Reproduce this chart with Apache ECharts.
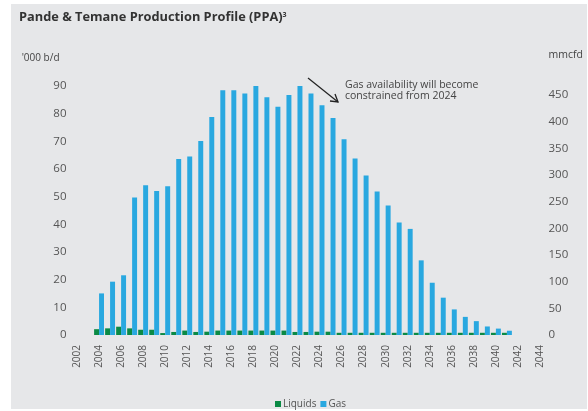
<!DOCTYPE html>
<html>
<head>
<meta charset="utf-8">
<script src="https://cdn.jsdelivr.net/npm/echarts@6/dist/echarts.min.js"></script>
<style>
  html, body { margin: 0; padding: 0; background: #ffffff; }
  #chart { width: 588px; height: 411px; }
</style>
</head>
<body>
<div id="chart"></div>
<script>
  // years on the x axis (ticks every 2 years)
  var years = [];
  for (var y = 2002; y <= 2044; y++) years.push(String(y));

  // '000 b/d, 2004 .. 2041
  var liquids = [2.1, 2.4, 3.0, 2.4, 1.9, 1.9, 0.7, 1.1, 1.6, 1.1,
                 1.2, 1.6, 1.6, 1.6, 1.6, 1.6, 1.6, 1.6, 1.1, 1.1,
                 1.2, 1.2, 0.8, 0.8, 0.8, 0.8, 0.8, 0.8, 0.8, 0.8,
                 0.8, 0.8, 0.8, 0.8, 0.8, 0.8, 0.8, 0.8];
  // mmcfd, 2004 .. 2041
  var gas = [78, 100, 112, 258, 281, 270, 279, 330, 335, 364,
             409, 459, 459, 453, 467, 446, 428, 450, 467, 453,
             431, 407, 367, 331, 299, 269, 243, 211, 199, 140,
             98, 70, 48, 34, 26, 16, 12, 8];

  var firstYear = 2004;
  function toSeries(arr) {
    return years.map(function (yr) {
      var i = Number(yr) - firstYear;
      return (i >= 0 && i < arr.length) ? arr[i] : null;
    });
  }

  var font = 'Open Sans';
  var chart = echarts.init(document.getElementById('chart'));
  chart.setOption({
    backgroundColor: '#ffffff',
    textStyle: { fontFamily: font },
    graphic: [
      { type: 'rect', z: -10, shape: { x: 11, y: 4, width: 576, height: 405 }, style: { fill: '#e6e7e9' } },
      // annotation arrow
      { type: 'polyline', z: 10, shape: { points: [[308, 78], [338, 102]] }, style: { stroke: '#222', lineWidth: 1.3, fill: null } },
      { type: 'polyline', z: 10, shape: { points: [[335, 94], [338, 102], [330, 101]] }, style: { stroke: '#222', lineWidth: 1.3, fill: null } },
      { type: 'text', z: 10, left: 345, top: 80, style: { text: 'Gas availability will become\nconstrained from 2024', fill: '#444', font: '10.5px "' + font + '"', lineHeight: 11 } }
    ],
    title: {
      left: 14, top: 6,
      text: '{a|Pande & Temane Production Profile (PPA)}{s|3}',
      textStyle: {
        rich: {
          a: { fontFamily: font, fontWeight: 'bold', fontSize: 12.8, color: '#333' },
          s: { fontFamily: font, fontWeight: 'bold', fontSize: 7, color: '#333', verticalAlign: 'top', padding: [0, 0, 6, 0] }
        }
      }
    },
    legend: {
      left: 270, top: 394,
      itemWidth: 6, itemHeight: 6, itemGap: 4,
      icon: 'rect',
      textStyle: { fontSize: 10, color: '#555', padding: [0, 0, 0, -3] },
      data: ['Liquids', 'Gas']
    },
    grid: { left: 71.5, right: 42.5, top: 86, bottom: 76 },
    xAxis: {
      type: 'category',
      data: years,
      axisLine: { show: false },
      axisTick: { show: false },
      axisLabel: { interval: 1, rotate: 90, margin: 10, fontSize: 10, color: '#555' }
    },
    yAxis: [
      {
        type: 'value', min: 0, max: 90, interval: 10,
        name: "'000 b/d", nameLocation: 'end', nameGap: 23,
        nameTextStyle: { align: 'right', fontSize: 10, color: '#444', padding: [0, 12, 0, 0] },
        axisLine: { show: false }, axisTick: { show: false }, splitLine: { show: false },
        axisLabel: { fontSize: 11.5, color: '#555', margin: 5 }
      },
      {
        type: 'value', min: 0, max: 467, interval: 50,
        name: 'mmcfd', nameLocation: 'end', nameGap: 25,
        nameTextStyle: { align: 'left', fontSize: 10.5, color: '#444', padding: [0, 0, 0, 3] },
        axisLine: { show: false }, axisTick: { show: false }, splitLine: { show: false },
        axisLabel: {
          fontSize: 11.5, color: '#555', margin: 3,
          formatter: function (v) { return v % 50 === 0 ? String(v) : ''; }
        }
      }
    ],
    series: [
      {
        name: 'Liquids', type: 'bar', yAxisIndex: 0,
        barGap: '0%', barCategoryGap: '10%',
        itemStyle: { color: '#0b8a45' },
        data: toSeries(liquids)
      },
      {
        name: 'Gas', type: 'bar', yAxisIndex: 1,
        barGap: '0%', barCategoryGap: '10%',
        itemStyle: { color: '#29a8e0' },
        data: toSeries(gas)
      }
    ]
  });
</script>
</body>
</html>
